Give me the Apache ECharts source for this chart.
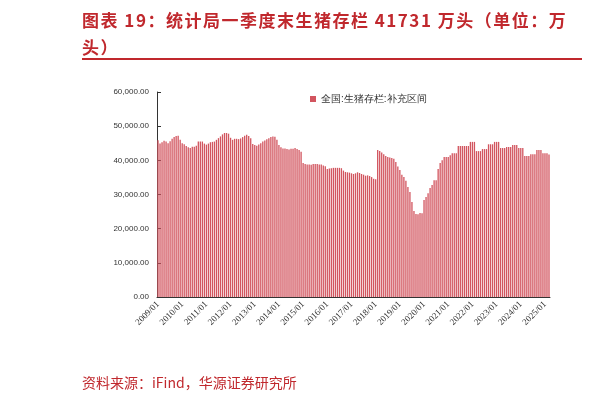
<!DOCTYPE html>
<html><head><meta charset="utf-8">
<script src="https://cdn.jsdelivr.net/npm/echarts@6/dist/echarts.min.js"></script>
<style>
body{margin:0;width:614px;height:402px;background:#fff;overflow:hidden;position:relative;font-family:"Noto Sans CJK SC",sans-serif}
#t{position:absolute;left:82px;top:6px;width:500px;color:#c0282d;font-weight:bold;font-size:17px;line-height:27px;letter-spacing:1.5px}
#line{position:absolute;left:82px;top:58px;width:500px;height:2px;background:#c0282d}
#s{position:absolute;left:82px;top:372px;color:#c0282d;font-size:14px}
#c{position:absolute;left:0;top:0;width:614px;height:402px}
</style></head><body>
<div id="c"></div>
<div id="t">图表 19：统计局一季度末生猪存栏 41731 万头（单位：万头）</div>
<div id="line"></div>
<div id="s">资料来源：iFind，华源证券研究所</div>
<script>
const seriesName = '全国:生猪存栏:补充区间';
const y2009 = [45900,44900,45300,45700,45500,45000,45600,46300,46800,47100,47200,46000];
const y2010 = [45000,44700,44200,43800,43600,44000,44000,44300,45500,45500,45500,44900];
const y2011 = [44600,44900,45300,45400,45500,46000,46500,47000,47600,48000,48000,47800];
const y2012 = [46600,46000,46300,46300,46200,46400,46800,47200,47500,47100,46500,44800];
const y2013 = [44500,44300,44600,45000,45500,45800,46200,46500,46800,47000,46900,46000];
const y2014 = [44500,43800,43500,43500,43300,43200,43400,43400,43600,43300,43000,42500];
const y2015 = [39200,38900,38800,38800,38700,38900,38900,38900,38800,38800,38500,38300];
const y2016 = [37500,37600,37700,37800,37800,37800,37800,37700,37000,36600,36500,36400];
const y2017 = [36200,36000,36200,36500,36300,36000,35800,35500,35600,35400,35100,34600];
const y2018 = [34500,43000,42700,42300,41800,41300,41000,40800,40700,40500,39500,38200];
const y2019 = [37200,35800,35100,34000,32200,30700,27800,25200,24300,24200,24600,24500];
const y2020 = [28400,29300,30400,31900,32800,34200,34200,37500,39200,40000,41000,41000];
const y2021 = [41000,41500,42100,42100,42100,44200,44200,44200,44200,44200,44200,45400];
const y2022 = [45400,45400,42700,42700,42700,43300,43300,43300,44700,44700,44700,45400];
const y2023 = [45400,45400,43600,43600,43600,43900,43900,43900,44500,44500,44500,43600];
const y2024 = [43600,43600,41300,41300,41300,41800,41800,41800,43000,43000,43000,42100];
const y2025 = [42100,42100,41731];
const values = [].concat(y2009,y2010,y2011,y2012,y2013,y2014,y2015,y2016,y2017,y2018,y2019,y2020,y2021,y2022,y2023,y2024,y2025);
const categories = values.map((v,i)=>{const y=2009+Math.floor(i/12), m=i%12+1; return y+'/'+(m<10?'0':'')+m;});
const chart = echarts.init(document.getElementById('c'));
chart.setOption({
  animation:false,
  legend:{top:89,left:305,itemWidth:6,itemHeight:6,icon:'rect',itemGap:4,textStyle:{fontSize:10,color:'#333'},data:[seriesName]},
  grid:{left:157,right:64,top:92,bottom:105},
  xAxis:{type:'category',data:categories,
    axisLine:{lineStyle:{color:'#333'}},axisTick:{show:false},
    axisLabel:{interval:11,rotate:45,fontSize:9,color:'#333',fontFamily:'Liberation Serif',margin:6}},
  yAxis:{type:'value',min:0,max:60000,interval:10000,splitLine:{show:false},
    axisLine:{show:true,lineStyle:{color:'#333'}},axisTick:{show:true,length:-4,lineStyle:{color:'#333'}},
    axisLabel:{fontSize:8,color:'#333',formatter:v=>v.toLocaleString('en-US',{minimumFractionDigits:2})}},
  series:[{name:seriesName,type:'bar',data:values,barCategoryGap:'35%',itemStyle:{color:'#d2555f'}}]
});
</script></body></html>
